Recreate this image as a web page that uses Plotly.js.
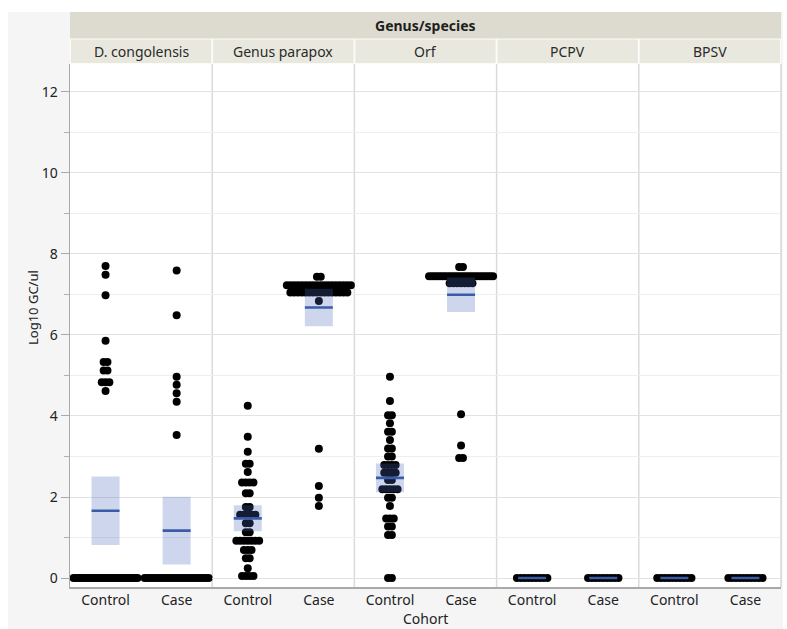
<!DOCTYPE html>
<html>
<head>
<meta charset="utf-8">
<script src="https://cdn.plot.ly/plotly-3.0.1.min.js"></script>
<style>html,body{margin:0;padding:0;background:#fff}</style>
</head>
<body>
<div id="chart" style="width:787px;height:629px"></div>
<script>
// Facets and cohorts
const panels = ['D. congolensis', 'Genus parapox', 'Orf', 'PCPV', 'BPSV'];
const cohorts = ['Control', 'Case'];

// Log10 genome copies per µl, one array per facet and cohort
const dcongControl = [7.70, 7.49, 6.98, 5.86, 5.33, 5.33, 5.12, 5.12, 4.83, 4.83, 4.83, 4.62,
  0, 0, 0, 0, 0, 0, 0, 0, 0, 0, 0, 0, 0, 0, 0, 0, 0, 0, 0, 0, 0, 0, 0, 0, 0, 0, 0, 0, 0];
const dcongCase = [7.59, 6.49, 4.97, 4.77, 4.56, 4.35, 3.53,
  0, 0, 0, 0, 0, 0, 0, 0, 0, 0, 0, 0, 0, 0, 0, 0, 0, 0, 0, 0, 0, 0, 0, 0];
const parapoxControl = [4.25, 3.49, 3.12, 2.82, 2.82, 2.62, 2.36, 2.36, 2.36, 2.36,
  2.09, 2.09, 1.75, 1.75, 1.56, 1.56, 1.56, 1.56, 1.56, 1.35, 1.35, 1.13, 1.13,
  0.92, 0.92, 0.92, 0.92, 0.92, 0.92, 0.92, 0.69, 0.69, 0.69, 0.49, 0.49, 0.24,
  0.05, 0.05, 0.05, 0.05];
const parapoxCase = [7.44, 7.44,
  7.23, 7.23, 7.23, 7.23, 7.23, 7.23, 7.23, 7.23, 7.23, 7.23, 7.23, 7.23, 7.23, 7.23, 7.23, 7.23, 7.23, 7.23,
  7.05, 7.05, 7.05, 7.05, 7.05, 7.05, 7.05, 7.05, 7.05, 7.05, 7.05, 7.05, 7.05, 7.05, 7.05, 7.05,
  6.84, 3.19, 2.27, 1.98, 1.78];
const orfControl = [4.97, 4.37, 4.02, 4.02, 3.82, 3.61, 3.61, 3.41, 3.20, 3.20, 3.00, 3.00,
  2.79, 2.79, 2.79, 2.79, 2.60, 2.60, 2.60, 2.60, 2.42, 2.42, 2.19, 2.19, 2.19, 2.19, 2.19,
  1.98, 1.98, 1.78, 1.47, 1.47, 1.47, 1.27, 1.27, 1.06, 1.06, 0, 0];
const orfCase = [7.68, 7.68,
  7.45, 7.45, 7.45, 7.45, 7.45, 7.45, 7.45, 7.45, 7.45, 7.45, 7.45, 7.45, 7.45, 7.45, 7.45, 7.45, 7.45,
  7.45, 7.45, 7.45, 7.45, 7.45, 7.45, 7.45, 7.45,
  7.28, 7.28, 7.28, 7.28, 7.28, 7.28, 7.28,
  4.04, 3.27, 2.96, 2.96];
const pcpvControl = [0, 0, 0, 0, 0, 0, 0, 0, 0];
const pcpvCase = [0, 0, 0, 0, 0, 0, 0, 0, 0];
const bpsvControl = [0, 0, 0, 0, 0, 0, 0, 0, 0, 0];
const bpsvCase = [0, 0, 0, 0, 0, 0, 0, 0, 0, 0];

const groups = [
  [dcongControl, dcongCase],
  [parapoxControl, parapoxCase],
  [orfControl, orfCase],
  [pcpvControl, pcpvCase],
  [bpsvControl, bpsvCase]
];

// Figure geometry (pixels)
const W = 787, H = 629;
const M = {l: 70, r: 6, t: 64, b: 42};
const plotW = W - M.l - M.r, plotH = H - M.t - M.b;
const panelW = plotW / panels.length;
const pxPerUnit = panelW / 2;           // x range per panel spans two category units
const px = p => (p - M.l) / plotW;      // pixel -> paper x
const py = p => (H - M.b - p) / plotH;  // pixel -> paper y

const FONT = 'Noto Sans, Open Sans, sans-serif';
const DOT = 8;          // marker diameter, px
const STEP = 3.8;       // preferred spacing between tied points, px
const SPAN = 64;        // widest allowed row, centre to centre, px
const BOX_HALF = 14;    // half width of the mean / CI band, px

// Points sharing a value are laid out side by side, centred on the category
function swarmX(values, centre) {
  const rows = new Map();
  values.forEach((v, i) => {
    if (!rows.has(v)) rows.set(v, []);
    rows.get(v).push(i);
  });
  const xs = new Array(values.length);
  rows.forEach(idx => {
    const n = idx.length;
    const s = n > 1 ? Math.min(STEP, SPAN / (n - 1)) : 0;
    idx.forEach((id, k) => {
      xs[id] = centre + ((k - (n - 1) / 2) * s) / pxPerUnit;
    });
  });
  return xs;
}

// two-sided 95% t quantile (Cornish-Fisher expansion)
function t975(df) {
  const z = 1.959964;
  return z + (z ** 3 + z) / (4 * df)
    + (5 * z ** 5 + 16 * z ** 3 + 3 * z) / (96 * df * df)
    + (3 * z ** 7 + 19 * z ** 5 + 17 * z ** 3 - 15 * z) / (384 * df ** 3);
}

function meanCI(values) {
  const n = values.length;
  const m = values.reduce((a, b) => a + b, 0) / n;
  const ss = values.reduce((a, b) => a + (b - m) * (b - m), 0);
  const se = Math.sqrt(ss / (n - 1)) / Math.sqrt(n);
  const h = t975(n - 1) * se;
  return {m, lo: m - h, hi: m + h};
}

const dotTraces = [], bandTraces = [], meanTraces = [];
groups.forEach((pair, p) => {
  const sfx = p === 0 ? '' : String(p + 1);
  pair.forEach((vals, c) => {
    dotTraces.push({
      type: 'scatter', mode: 'markers',
      x: swarmX(vals, c), y: vals,
      xaxis: 'x' + sfx, yaxis: 'y' + sfx,
      marker: {color: '#000000', size: DOT, line: {width: 0}},
      hoverinfo: 'y', showlegend: false, cliponaxis: false
    });
    const st = meanCI(vals);
    const h = BOX_HALF / pxPerUnit;
    bandTraces.push({
      type: 'scatter', mode: 'lines',
      x: [c - h, c + h, c + h, c - h, c - h],
      y: [st.lo, st.lo, st.hi, st.hi, st.lo],
      fill: 'toself', fillcolor: 'rgba(70,105,185,0.27)',
      line: {width: 0}, xaxis: 'x' + sfx, yaxis: 'y' + sfx,
      hoverinfo: 'skip', showlegend: false
    });
    meanTraces.push({
      type: 'scatter', mode: 'lines',
      x: [c - h, c + h], y: [st.m, st.m],
      line: {color: '#3a5ca8', width: 2.6},
      xaxis: 'x' + sfx, yaxis: 'y' + sfx,
      hoverinfo: 'skip', showlegend: false
    });
  });
});

const layout = {
  width: W, height: H,
  margin: M,
  paper_bgcolor: '#f5f5f5',
  plot_bgcolor: '#ffffff',
  font: {family: FONT, size: 14, color: '#222222'},
  showlegend: false,
  shapes: [],
  annotations: []
};

const Y_RANGE = [-0.222, 12.69];
panels.forEach((name, p) => {
  const sfx = p === 0 ? '' : String(p + 1);
  layout['xaxis' + sfx] = {
    domain: [p / panels.length, (p + 1) / panels.length],
    anchor: 'y' + sfx,
    range: [-0.5, 1.5],
    tickvals: [0, 1], ticktext: cohorts,
    showgrid: false, zeroline: false,
    showline: true, linecolor: '#a9a9a9', linewidth: 1.5,
    ticks: '', tickfont: {size: 14, color: '#222222'},
    fixedrange: true
  };
  layout['yaxis' + sfx] = {
    anchor: 'x' + sfx,
    range: Y_RANGE,
    matches: p === 0 ? undefined : 'y',
    tick0: 0, dtick: 2,
    showgrid: true, gridcolor: '#e2e2e2', gridwidth: 1,
    minor: {dtick: 1, showgrid: true, gridcolor: '#eeeeee',
            ticks: p === 0 ? 'outside' : '', ticklen: 5, tickcolor: '#b0b0b0'},
    zeroline: false,
    ticks: p === 0 ? 'outside' : '', ticklen: 8, tickcolor: '#a9a9a9',
    showticklabels: p === 0,
    tickfont: {size: 14, color: '#222222'},
    showline: p === 0, linecolor: '#a9a9a9', linewidth: 1.5,
    fixedrange: true
  };

  // facet label cell
  layout.shapes.push({
    type: 'rect', xref: 'paper', yref: 'paper', layer: 'below',
    x0: px(M.l + panelW * p + 1), x1: px(M.l + panelW * (p + 1) - 1),
    y0: py(63), y1: py(39.5),
    fillcolor: '#e9e8de', line: {width: 0}
  });
  layout.annotations.push({
    xref: 'paper', yref: 'paper', x: (p + 0.5) / panels.length, y: py(51),
    text: name, showarrow: false, xanchor: 'center', yanchor: 'middle',
    font: {family: FONT, size: 14, color: '#2a2a2a'}
  });

  // panel separator
  if (p > 0) {
    layout.shapes.push({
      type: 'line', xref: 'paper', yref: 'paper', layer: 'below',
      x0: p / panels.length, x1: p / panels.length, y0: 0, y1: 1,
      line: {color: '#dadada', width: 1.5}
    });
  }
});
// right border
layout.shapes.push({
  type: 'line', xref: 'paper', yref: 'paper', layer: 'below',
  x0: 1, x1: 1, y0: 0, y1: 1, line: {color: '#d6d6d6', width: 1.5}
});

// white margin strips and header bands
layout.shapes.unshift(
  {type: 'rect', xref: 'paper', yref: 'paper', layer: 'below',
   x0: px(0), x1: px(8), y0: py(H), y1: py(0), fillcolor: '#ffffff', line: {width: 0}},
  {type: 'rect', xref: 'paper', yref: 'paper', layer: 'below',
   x0: px(0), x1: px(W), y0: py(12), y1: py(0), fillcolor: '#ffffff', line: {width: 0}},
  {type: 'rect', xref: 'paper', yref: 'paper', layer: 'below',
   x0: px(783), x1: px(W), y0: py(H), y1: py(0), fillcolor: '#ffffff', line: {width: 0}},
  {type: 'rect', xref: 'paper', yref: 'paper', layer: 'below',
   x0: 0, x1: 1, y0: py(64), y1: py(38), fillcolor: '#fbfbf8', line: {width: 0}},
  {type: 'rect', xref: 'paper', yref: 'paper', layer: 'below',
   x0: 0, x1: 1, y0: py(38.5), y1: py(12), fillcolor: '#dddbcf', line: {width: 0}}
);

layout.annotations.push(
  {xref: 'paper', yref: 'paper', x: 0.5, y: py(25),
   text: '<b>Genus/species</b>', showarrow: false, xanchor: 'center', yanchor: 'middle',
   font: {family: FONT, size: 14, color: '#1e1e1e'}},
  {xref: 'paper', yref: 'paper', x: px(33), y: py(308),
   text: 'Log10 GC/ul', textangle: -90, showarrow: false, xanchor: 'center', yanchor: 'middle',
   font: {family: FONT, size: 13, color: '#222222'}},
  {xref: 'paper', yref: 'paper', x: 0.5, y: py(618),
   text: 'Cohort', showarrow: false, xanchor: 'center', yanchor: 'middle',
   font: {family: FONT, size: 14, color: '#222222'}}
);

Plotly.newPlot('chart', dotTraces.concat(bandTraces, meanTraces), layout,
  {displayModeBar: false, staticPlot: true});
</script>
</body>
</html>
